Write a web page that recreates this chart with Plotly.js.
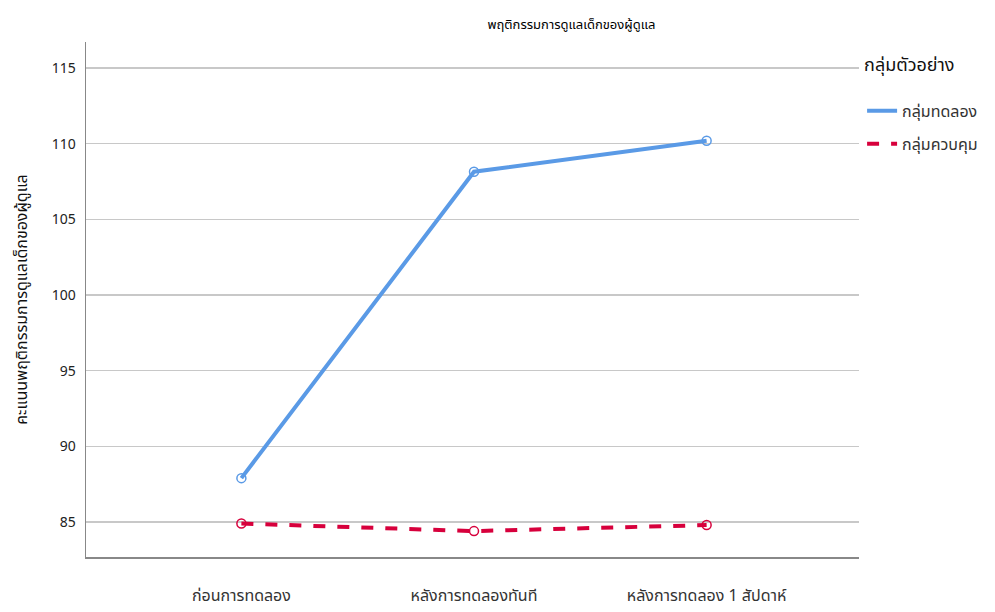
<!DOCTYPE html>
<html>
<head>
<meta charset="utf-8">
<script src="https://cdn.plot.ly/plotly-3.0.1.min.js"></script>
<style>html,body{margin:0;padding:0;background:#fff;}#chart{width:995px;height:612px;}</style>
</head>
<body>
<div id="chart"></div>
<script>
const categories = ["ก่อนการทดลอง", "หลังการทดลองทันที", "หลังการทดลอง 1 สัปดาห์"];
const experimental = [87.9, 108.15, 110.2];
const control = [84.9, 84.4, 84.8];
const seriesNames = ["กลุ่มทดลอง", "กลุ่มควบคุม"];
const yTicks = [85, 90, 95, 100, 105, 110, 115];
const xIdx = categories.map((c, i) => i);

const FONT = "Tahoma, 'Noto Sans Thai', 'Noto Sans', sans-serif";
const BLUE = "#5a9ae6", RED = "#d7003c";

const traces = [
  {x: xIdx, y: experimental, name: seriesNames[0], legendgroup: "a", type: "scatter", mode: "lines",
   line: {color: BLUE, width: 4}},
  {x: xIdx, y: control, name: seriesNames[1], legendgroup: "b", type: "scatter", mode: "lines",
   line: {color: RED, width: 4, dash: "dash"}},
  {x: xIdx, y: experimental, showlegend: false, type: "scatter", mode: "markers",
   marker: {symbol: "circle-open", size: 9, color: BLUE, line: {width: 1.5}}},
  {x: xIdx, y: control, showlegend: false, type: "scatter", mode: "markers",
   marker: {symbol: "circle-open", size: 9, color: RED, line: {width: 1.5}}}
];

const layout = {
  width: 995, height: 612,
  margin: {l: 86, r: 133, t: 42, b: 55},
  paper_bgcolor: "#ffffff", plot_bgcolor: "#ffffff",
  font: {family: FONT, color: "#222"},
  title: {text: "พฤติกรรมการดูแลเด็กของผู้ดูแล", font: {size: 13, color: "#000"},
          x: 0.628, xref: "paper", xanchor: "center", y: 0.96, yref: "container", yanchor: "middle"},
  xaxis: {
    range: [-0.668, 2.655], tickvals: xIdx, ticktext: categories,
    showgrid: false, zeroline: false, showline: true, linecolor: "#888", linewidth: 1.5,
    ticks: "", ticklabelstandoff: 23, tickfont: {size: 16, color: "#333"}
  },
  yaxis: {
    range: [82.69, 116.72], tickvals: yTicks, ticktext: yTicks.map(String),
    showgrid: true, gridcolor: "#c8c8c8", gridwidth: 1.5, zeroline: false,
    showline: true, linecolor: "#888", linewidth: 1.5, ticks: "",
    ticklabelstandoff: 6, tickfont: {size: 14, color: "#222"},
    title: {text: "คะแนนพฤติกรรมการดูแลเด็กของผู้ดูแล", font: {size: 16, color: "#111"}, standoff: 20}
  },
  showlegend: true,
  legend: {
    x: 1.004, xanchor: "left", y: 0.99, yanchor: "top",
    title: {text: "กลุ่มตัวอย่าง<br> ", font: {size: 18, color: "#111"}},
    font: {size: 16, color: "#333"}, tracegroupgap: 9, itemwidth: 30,
    bgcolor: "rgba(0,0,0,0)"
  }
};

Plotly.newPlot("chart", traces, layout, {displayModeBar: false, staticPlot: true});
</script>
</body>
</html>
